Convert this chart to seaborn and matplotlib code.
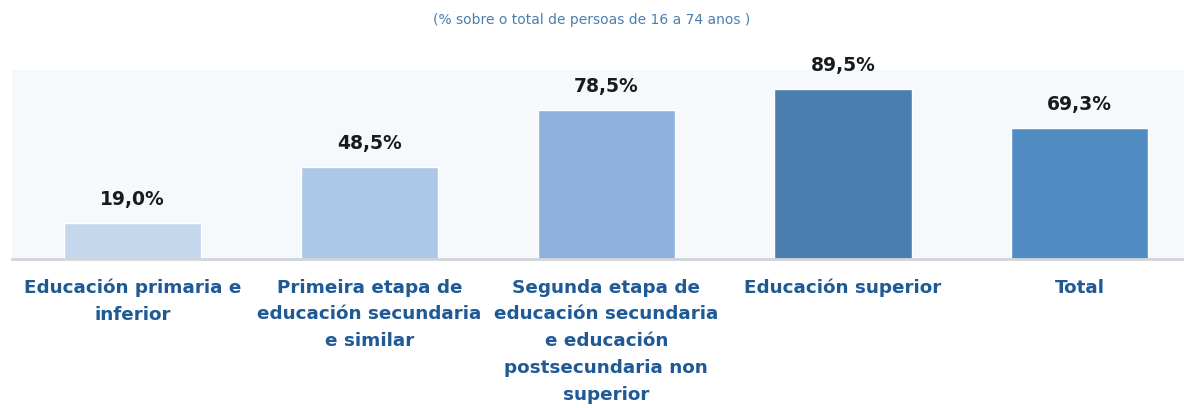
import matplotlib
matplotlib.use('Agg')
import matplotlib.pyplot as plt
import seaborn as sns
import pandas as pd

# datos
categorias = ['Educación primaria e\ninferior',
              'Primeira etapa de\neducación secundaria\ne similar',
              'Segunda etapa de\neducación secundaria\ne educación\npostsecundaria non\nsuperior',
              'Educación superior',
              'Total']
valores = [19.0, 48.5, 78.5, 89.5, 69.3]
cores = ['#c5d7ec', '#adc8e6', '#8db1dc', '#4a7eae', '#508cc2']

df = pd.DataFrame({'cat': categorias, 'val': valores})

sns.set_style('white')
plt.rcParams['font.family'] = ['DejaVu Sans']

fig = plt.figure(figsize=(11.84, 4.08), dpi=100)
ax = fig.add_axes([0.0101, 0.365, 0.9899, 0.463])
ax.set_facecolor('#f6f9fc')

sns.barplot(data=df, x='cat', y='val', hue='cat', palette=cores,
            width=0.58, legend=False, ax=ax, saturation=1)

for i, v in enumerate(valores):
    ax.annotate(f'{v:.1f}%'.replace('.', ','), (i, v), xytext=(0, 10),
                textcoords='offset points', ha='center', va='bottom',
                fontsize=13.5, fontweight='semibold', color='#1a1a1a')

ax.set_ylim(0, 99.5)
ax.set_xlim(-0.51, 4.44)
ax.set_xlabel('')
ax.set_ylabel('')
ax.set_yticks([])
ax.tick_params(axis='x', length=0, pad=14)
for lab in ax.get_xticklabels():
    lab.set_fontsize(13.2)
    lab.set_fontweight('bold')
    lab.set_color('#1f5a96')
    lab.set_linespacing(1.63)
    lab.set_va('top')
for s in ['top', 'left', 'right']:
    ax.spines[s].set_visible(False)
ax.spines['bottom'].set_color('#d0d5da')
ax.spines['bottom'].set_linewidth(2)

fig.text(0.5, 0.95, '(% sobre o total de persoas de 16 a 74 anos )',
         ha='center', va='center', fontsize=10, color='#4a7eae')

fig.savefig('out.png', dpi=100)
